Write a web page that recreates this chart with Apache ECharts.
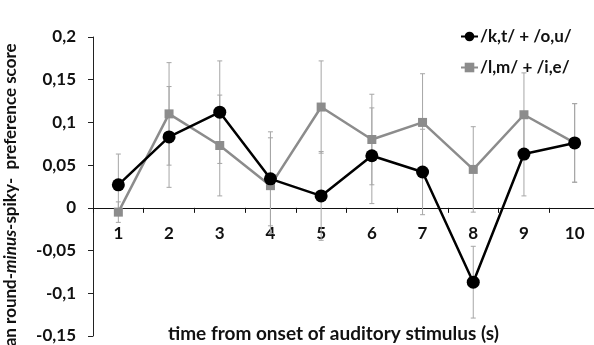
<!DOCTYPE html>
<html><head><meta charset="utf-8">
<script src="https://cdn.jsdelivr.net/npm/echarts@6/dist/echarts.min.js"></script>
<style>html,body{margin:0;padding:0;background:#fff}#c{width:594px;height:345px}</style>
</head><body><div id="c"></div>
<script>
var categories = ['1','2','3','4','5','6','7','8','9','10'];
var seriesNames = ['/k,t/ + /o,u/', '/l,m/ + /i,e/'];
var kt = [0.027, 0.083, 0.112, 0.034, 0.014, 0.061, 0.042, -0.087, 0.063, 0.076];
var ktErr = [0.036, 0.059, 0.060, 0.055, 0.052, 0.056, 0.050, 0.042, 0.049, 0.046];
var lm = [-0.005, 0.110, 0.073, 0.026, 0.118, 0.080, 0.100, 0.045, 0.109, 0.076];
var lmErr = [0.012, 0.060, 0.059, 0.056, 0.054, 0.053, 0.057, 0.050, 0.049, 0.046];
var yTicks = [-0.15, 0.2, 0.05];

var FONT = 'Lato';
var GRID_TOP = 37, GRID_BOTTOM = 9, H = 345;
// place x axis on the zero line via offset computed from the value scale
var plotH = H - GRID_TOP - GRID_BOTTOM;
var zeroFromBottom = plotH * (0 - yTicks[0]) / (yTicks[1] - yTicks[0]);

function errData(vals, errs){
  return vals.map(function(v,i){ return [i, v - errs[i], v + errs[i]]; });
}
function errSeries(vals, errs){
  return {
    type: 'custom',
    silent: true,
    z: 1,
    data: errData(vals, errs),
    renderItem: function(params, api){
      var x = api.value(0);
      var lo = api.coord([x, api.value(1)]);
      var hi = api.coord([x, api.value(2)]);
      var w = 2.5;
      var st = {stroke: '#a6a6a6', lineWidth: 1};
      return {type: 'group', children: [
        {type:'line', shape:{x1:lo[0], y1:lo[1], x2:hi[0], y2:hi[1]}, style: st},
        {type:'line', shape:{x1:lo[0]-w, y1:lo[1], x2:lo[0]+w, y2:lo[1]}, style: st},
        {type:'line', shape:{x1:hi[0]-w, y1:hi[1], x2:hi[0]+w, y2:hi[1]}, style: st}
      ]};
    }
  };
}
var chart = echarts.init(document.getElementById('c'), null, {renderer:'canvas'});
chart.setOption({
  animation: false,
  backgroundColor: '#fff',
  grid: {left: 93, right: -6, top: GRID_TOP, bottom: GRID_BOTTOM, containLabel: false, outerBoundsMode: 'none'},
  legend: {
    data: seriesNames,
    orient: 'vertical',
    left: 455, top: 23,
    itemGap: 14, itemWidth: 17, itemHeight: 12,
    textStyle: {fontFamily: FONT, fontWeight: 'bold', fontSize: 17, color: '#111', padding: [0,0,0,-3]}
  },
  xAxis: {
    type: 'category',
    data: categories,
    boundaryGap: true,
    offset: -zeroFromBottom,
    axisLine: {onZero: false, lineStyle: {color: '#111', width: 1}},
    axisTick: {show: true, inside: false, length: 5, alignWithLabel: false, lineStyle:{color:'#111'}},
    axisLabel: {margin: 17, fontFamily: FONT, fontWeight: 'bold', fontSize: 17, color: '#111'},
    splitLine: {show: false},
    name: 'time from onset of auditory stimulus (s)',
    nameLocation: 'middle',
    nameGap: 117,
    nameTextStyle: {fontFamily: FONT, fontWeight: 'bold', fontSize: 19, color: '#111', padding: [0, 26, 0, 0]}
  },
  yAxis: {
    type: 'value',
    min: yTicks[0], max: yTicks[1], interval: yTicks[2],
    axisLine: {show: true, lineStyle: {color: '#222', width: 1}},
    axisTick: {show: true, inside: false, length: 5, lineStyle:{color:'#222'}},
    splitLine: {show: false},
    axisLabel: {
      margin: 17, fontFamily: FONT, fontWeight: 'bold', fontSize: 17, color: '#111',
      formatter: function(v){ return String(Math.round(v*100)/100).replace('.', ','); }
    },
    name: '{n|mean round-}{i|minus}{n|-spiky-  preference score}',
    nameLocation: 'middle',
    nameGap: 74,
    nameRotate: 90,
    nameTextStyle: {
      padding: [0, 40, 0, 0],
      rich: {
        n: {fontFamily: FONT, fontWeight: 'bold', fontSize: 17, color: '#111'},
        i: {fontFamily: FONT, fontWeight: 'bold', fontStyle: 'italic', fontSize: 17, color: '#111'}
      }
    }
  },
  series: [
    errSeries(lm, lmErr),
    errSeries(kt, ktErr),
    {
      name: seriesNames[1], type: 'line', data: lm, z: 3,
      symbol: 'rect', symbolSize: 9,
      itemStyle: {color: '#8c8c8c'},
      lineStyle: {color: '#8c8c8c', width: 2.5}
    },
    {
      name: seriesNames[0], type: 'line', data: kt, z: 4,
      symbol: 'circle', symbolSize: 13,
      itemStyle: {color: '#000'},
      lineStyle: {color: '#000', width: 2.5}
    }
  ]
});
</script></body></html>
